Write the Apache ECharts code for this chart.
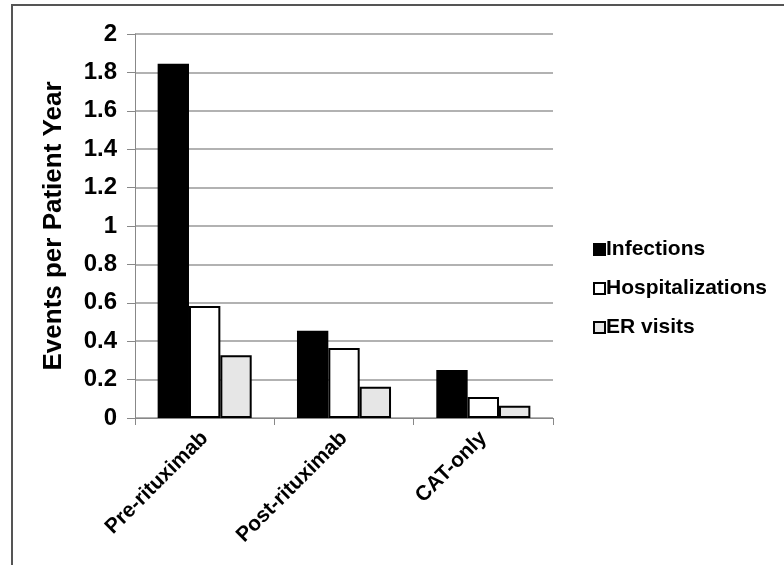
<!DOCTYPE html>
<html>
<head>
<meta charset="utf-8">
<script src="https://cdn.jsdelivr.net/npm/echarts@6/dist/echarts.min.js"></script>
<style>
html,body{margin:0;padding:0;background:#fff;}
#c{width:784px;height:565px;}
</style>
</head>
<body>
<div id="c"></div>
<script>
const categories = ['Pre-rituximab', 'Post-rituximab', 'CAT-only'];
const infections = [1.845, 0.455, 0.25];
const hospitalizations = [0.583, 0.365, 0.109];
const erVisits = [0.327, 0.163, 0.064];
const yTicks = {min: 0, max: 2, interval: 0.2};

const chart = echarts.init(document.getElementById('c'), null, {renderer: 'canvas'});
const FONT = 'Liberation Sans, Arial, sans-serif';
function barSeries(name, data, fill) {
  return {
    name: name,
    type: 'bar',
    data: data,
    barGap: '0%',
    barCategoryGap: '32.5%',
    itemStyle: {color: fill, borderColor: '#000', borderWidth: 2},
    emphasis: {disabled: true}
  };
}
chart.setOption({
  animation: false,
  backgroundColor: '#fff',
  graphic: [
    {type: 'polyline', shape: {points: [[12, 565], [12, 5], [784, 5]]},
     style: {stroke: '#555', lineWidth: 2, fill: null}, silent: true}
  ],
  grid: {left: 135, right: 231, top: 34, bottom: 147, containLabel: false},
  legend: {
    orient: 'vertical',
    left: 588,
    top: 234,
    itemWidth: 11,
    itemHeight: 11,
    itemGap: 18,
    icon: 'rect',
    textStyle: {fontFamily: FONT, fontWeight: 'bold', fontSize: 21, color: '#000', padding: [0,0,0,-4]},
    data: ['Infections', 'Hospitalizations', 'ER visits']
  },
  xAxis: {
    type: 'category',
    data: categories,
    axisLine: {lineStyle: {color: '#888', width: 1}},
    axisTick: {show: true, length: 7, lineStyle: {color: '#888'}},
    axisLabel: {
      rotate: 45, margin: 17, color: '#000',
      fontFamily: FONT, fontWeight: 'bold', fontSize: 21
    }
  },
  yAxis: {
    type: 'value',
    min: yTicks.min, max: yTicks.max, interval: yTicks.interval,
    name: 'Events per Patient Year',
    nameLocation: 'middle',
    nameGap: 68,
    nameTextStyle: {fontFamily: FONT, fontWeight: 'bold', fontSize: 26, color: '#000'},
    axisLine: {show: true, lineStyle: {color: '#888', width: 1}},
    axisTick: {show: true, length: 8, lineStyle: {color: '#888'}},
    axisLabel: {
      margin: 18, color: '#000', fontFamily: FONT, fontWeight: 'bold', fontSize: 24,
      formatter: function (v) { return String(Math.round(v * 10) / 10); }
    },
    splitLine: {show: true, lineStyle: {color: '#999', width: 1.5}}
  },
  series: [
    barSeries('Infections', infections, '#000'),
    barSeries('Hospitalizations', hospitalizations, '#fff'),
    barSeries('ER visits', erVisits, '#e6e6e6')
  ]
});
</script>
</body>
</html>
